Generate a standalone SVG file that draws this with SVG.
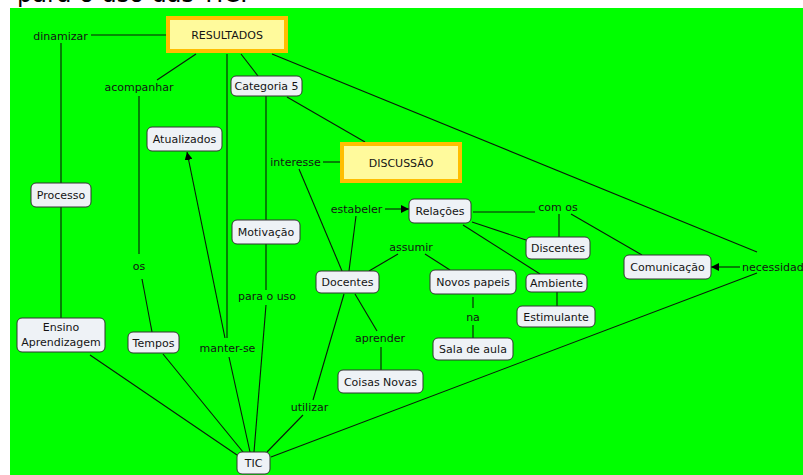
<svg xmlns="http://www.w3.org/2000/svg" width="803" height="475" viewBox="0 0 803 475">
  <style>
    text { font-family: "DejaVu Sans", "Liberation Sans", sans-serif; font-size: 11px; fill: #141414; text-anchor: middle; }
    .title { font-size: 24px; text-anchor: start; fill: #000; }
    .node rect { fill: #EEF2F6; stroke: #333; stroke-width: 1; }
    .main rect { fill: #FFFA9C; stroke: #FFBE00; stroke-width: 4; }
    #connectors line { stroke: #0A1A0A; stroke-width: 1.1; fill: none; }
    .arrow { marker-end: url(#head); }
  </style>
  <defs>
    <marker id="head" viewBox="0 0 10 10" refX="10" refY="5" markerWidth="8" markerHeight="8" markerUnits="userSpaceOnUse" orient="auto">
      <path d="M0,0 L10,5 L0,10 z" fill="#000"/>
    </marker>
  </defs>

  <rect width="803" height="475" fill="#fff"/>
  <text class="title" x="17" y="2">para o uso das TIC.</text>
  <rect x="10" y="8" width="793" height="467" fill="#00FF00"/>

  <g id="connectors">
    <line x1="91" y1="35" x2="166" y2="35"/>
    <line x1="61" y1="43" x2="61" y2="183"/>
    <line x1="61" y1="207" x2="61" y2="318"/>
    <line x1="196" y1="54" x2="157" y2="80"/>
    <line x1="139" y1="96" x2="139" y2="254"/>
    <line x1="142" y1="279" x2="152" y2="332"/>
    <line x1="227" y1="54" x2="227" y2="338"/>
    <line class="arrow" x1="225" y1="338" x2="187" y2="152"/>
    <line x1="229" y1="357" x2="250" y2="452"/>
    <line x1="241" y1="54" x2="258" y2="76"/>
    <line x1="266" y1="96" x2="266" y2="220"/>
    <line x1="266" y1="244" x2="266" y2="290"/>
    <line x1="266" y1="305" x2="254" y2="452"/>
    <line x1="287" y1="97" x2="365" y2="142"/>
    <line x1="272" y1="54" x2="757" y2="252"/>
    <line x1="323" y1="162" x2="340" y2="162"/>
    <line x1="299" y1="169" x2="342" y2="271"/>
    <line class="arrow" x1="385" y1="209" x2="409" y2="209"/>
    <line x1="356" y1="216" x2="349" y2="271"/>
    <line x1="369" y1="271" x2="398" y2="254"/>
    <line x1="425" y1="254" x2="450" y2="270"/>
    <line x1="473" y1="212" x2="535" y2="212"/>
    <line x1="559" y1="214" x2="559" y2="237"/>
    <line x1="571" y1="214" x2="642" y2="255"/>
    <line x1="472" y1="222" x2="526" y2="240"/>
    <line x1="463" y1="225" x2="540" y2="274"/>
    <line x1="557" y1="292" x2="557" y2="306"/>
    <line x1="473" y1="297" x2="473" y2="308"/>
    <line x1="473" y1="325" x2="473" y2="338"/>
    <line x1="355" y1="294" x2="377" y2="331"/>
    <line x1="381" y1="347" x2="381" y2="370"/>
    <line x1="344" y1="294" x2="313" y2="400"/>
    <line x1="303" y1="415" x2="267" y2="452"/>
    <line class="arrow" x1="740" y1="267" x2="711" y2="267"/>
    <line x1="757" y1="273" x2="271" y2="457"/>
    <line x1="90" y1="355" x2="237" y2="455"/>
    <line x1="163" y1="354" x2="243" y2="452"/>
  </g>

  <!-- linking phrases -->
  <g id="links">
    <text x="60.5" y="40">dinamizar</text>
    <text x="139" y="91">acompanhar</text>
    <text x="139" y="270">os</text>
    <text x="267" y="300">para o uso</text>
    <text x="227.5" y="352">manter-se</text>
    <text x="295.5" y="166">interesse</text>
    <text x="356.5" y="213">estabeler</text>
    <text x="411" y="251">assumir</text>
    <text x="558" y="211">com os</text>
    <text x="742" y="271" style="text-anchor:start">necessidad</text>
    <text x="473" y="321">na</text>
    <text x="380" y="342">aprender</text>
    <text x="309.5" y="411">utilizar</text>
  </g>

  <g id="resultados" class="main">
    <rect x="168" y="18" width="118" height="33"/>
    <text x="227" y="39">RESULTADOS</text>
  </g>
  <g id="discussao" class="main">
    <rect x="342" y="144" width="118" height="37"/>
    <text x="401" y="167">DISCUSSÃO</text>
  </g>

  <g id="processo" class="node">
    <rect x="31" y="183" width="60" height="24" rx="5"/>
    <text x="61" y="199">Processo</text>
  </g>
  <g id="ensino" class="node">
    <rect x="17" y="318" width="88" height="34" rx="5"/>
    <text x="61" y="331">Ensino</text>
    <text x="61" y="346">Aprendizagem</text>
  </g>
  <g id="tempos" class="node">
    <rect x="128" y="332" width="51" height="21" rx="5"/>
    <text x="153.5" y="347">Tempos</text>
  </g>
  <g id="atualizados" class="node">
    <rect x="147" y="127" width="75" height="24" rx="5"/>
    <text x="184.5" y="143">Atualizados</text>
  </g>
  <g id="categoria5" class="node">
    <rect x="231" y="76" width="71" height="20" rx="5"/>
    <text x="266.5" y="90">Categoria 5</text>
  </g>
  <g id="motivacao" class="node">
    <rect x="232" y="220" width="68" height="24" rx="5"/>
    <text x="266" y="236">Motivação</text>
  </g>
  <g id="docentes" class="node">
    <rect x="316" y="271" width="63" height="22" rx="5"/>
    <text x="347.5" y="286">Docentes</text>
  </g>
  <g id="relacoes" class="node">
    <rect x="409" y="199" width="62" height="24" rx="5"/>
    <text x="440" y="215">Relações</text>
  </g>
  <g id="novospapeis" class="node">
    <rect x="430" y="270" width="86" height="24" rx="5"/>
    <text x="473" y="286">Novos papeis</text>
  </g>
  <g id="saladeaula" class="node">
    <rect x="433" y="338" width="80" height="22" rx="5"/>
    <text x="473" y="353">Sala de aula</text>
  </g>
  <g id="coisasnovas" class="node">
    <rect x="338" y="370" width="85" height="23" rx="5"/>
    <text x="380.5" y="386">Coisas Novas</text>
  </g>
  <g id="discentes" class="node">
    <rect x="526" y="237" width="64" height="22" rx="5"/>
    <text x="558" y="252">Discentes</text>
  </g>
  <g id="ambiente" class="node">
    <rect x="526" y="274" width="61" height="18" rx="5"/>
    <text x="556.5" y="287">Ambiente</text>
  </g>
  <g id="estimulante" class="node">
    <rect x="517" y="306" width="78" height="21" rx="5"/>
    <text x="556" y="321">Estimulante</text>
  </g>
  <g id="comunicacao" class="node">
    <rect x="624" y="255" width="87" height="24" rx="5"/>
    <text x="667.5" y="271">Comunicação</text>
  </g>
  <g id="tic" class="node">
    <rect x="237" y="452" width="33" height="22" rx="5"/>
    <text x="253.5" y="467">TIC</text>
  </g>
</svg>
